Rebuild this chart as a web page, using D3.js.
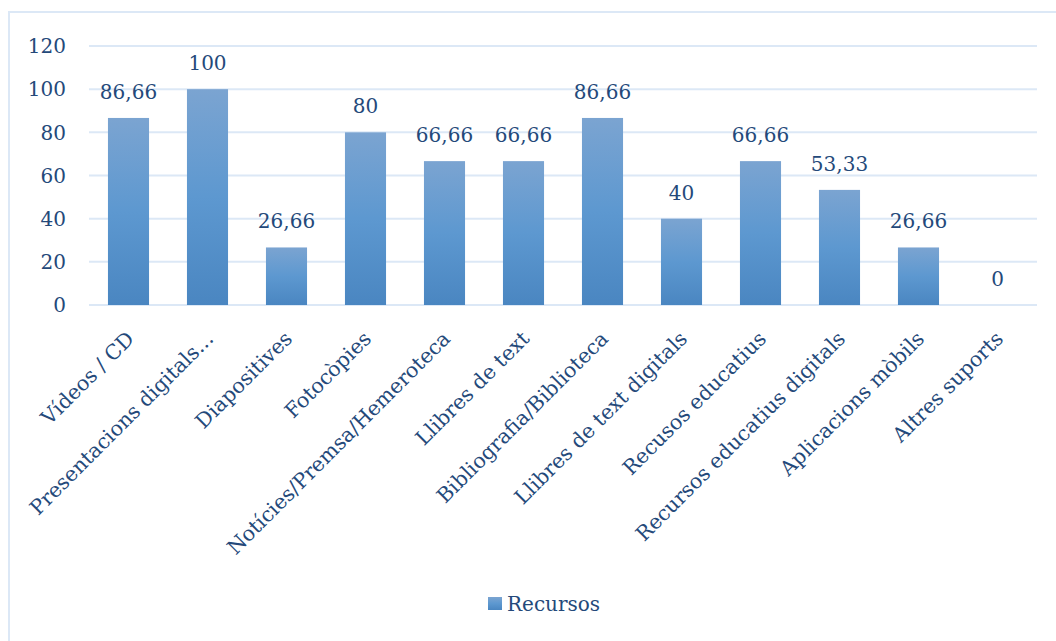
<!DOCTYPE html>
<html><head><meta charset="utf-8">
<script src="https://cdn.jsdelivr.net/npm/d3@7"></script>
<style>body{margin:0;background:#fff;}svg{display:block;}</style>
</head><body>
<script>
const categories = ["Vídeos / CD","Presentacions digitals...","Diapositives","Fotocòpies","Notícies/Premsa/Hemeroteca","Llibres de text","Bibliografia/Biblioteca","Llibres de text digitals","Recusos educatius","Recursos educatius digitals","Aplicacions mòbils","Altres suports"];
const values = [86.66,100,26.66,80,66.66,66.66,86.66,40,66.66,53.33,26.66,0];
const valueLabels = ["86,66","100","26,66","80","66,66","66,66","86,66","40","66,66","53,33","26,66","0"];
const yTicks = [0,20,40,60,80,100,120];
const seriesName = "Recursos";

const W=1056,H=641;
const textColor="#24497a", gridColor="#dce8f6", font="DejaVu Serif";
const svg=d3.select("body").append("svg").attr("width",W).attr("height",H);
const defs=svg.append("defs");
const grad=defs.append("linearGradient").attr("id","bg").attr("x1",0).attr("y1",0).attr("x2",0).attr("y2",1);
grad.append("stop").attr("offset","0%").attr("stop-color","#7ba4d1");
grad.append("stop").attr("offset","50%").attr("stop-color","#5d98d0");
grad.append("stop").attr("offset","100%").attr("stop-color","#4a86c1");

// outer border (top & left visible)
svg.append("rect").attr("x",9).attr("y",12).attr("width",1100).attr("height",700)
  .attr("fill","none").attr("stroke",gridColor).attr("stroke-width",2);

const x=d3.scaleBand().domain(categories).range([89,1037]).paddingInner(0.48).paddingOuter(0.24);
const y=d3.scaleLinear().domain([0,120]).range([305,46]);

// grid
svg.append("g").selectAll("line").data(yTicks).join("line")
  .attr("x1",89).attr("x2",1037).attr("y1",d=>y(d)).attr("y2",d=>y(d))
  .attr("stroke",gridColor).attr("stroke-width",2);

// y tick labels
svg.append("g").selectAll("text").data(yTicks).join("text")
  .attr("x",66).attr("y",d=>y(d)).attr("dy","0.36em").attr("text-anchor","end")
  .attr("font-family",font).attr("font-size",20).attr("fill",textColor).text(d=>d);

// bars
svg.append("g").selectAll("rect").data(values).join("rect")
  .attr("x",(d,i)=>x(categories[i])).attr("width",x.bandwidth())
  .attr("y",d=>y(d)).attr("height",d=>y(0)-y(d)).attr("fill","url(#bg)");

// value labels
svg.append("g").selectAll("text").data(values).join("text")
  .attr("x",(d,i)=>x(categories[i])+x.bandwidth()/2).attr("y",d=>y(d)-19)
  .attr("text-anchor","middle").attr("font-family",font).attr("font-size",20)
  .attr("fill",textColor).text((d,i)=>valueLabels[i]);

// category labels
svg.append("g").selectAll("text").data(categories).join("text")
  .attr("transform",d=>`translate(${x(d)+x.bandwidth()/2+7},${340}) rotate(-45)`)
  .attr("text-anchor","end").attr("font-family",font).attr("font-size",20.5)
  .attr("fill",textColor).text(d=>d);

// legend
const lg=svg.append("g");
lg.append("rect").attr("x",488).attr("y",597).attr("width",14).attr("height",13).attr("fill","url(#bg)");
lg.append("text").attr("x",507).attr("y",611).attr("font-family",font).attr("font-size",20)
  .attr("fill",textColor).text(seriesName);
</script>
</body></html>
